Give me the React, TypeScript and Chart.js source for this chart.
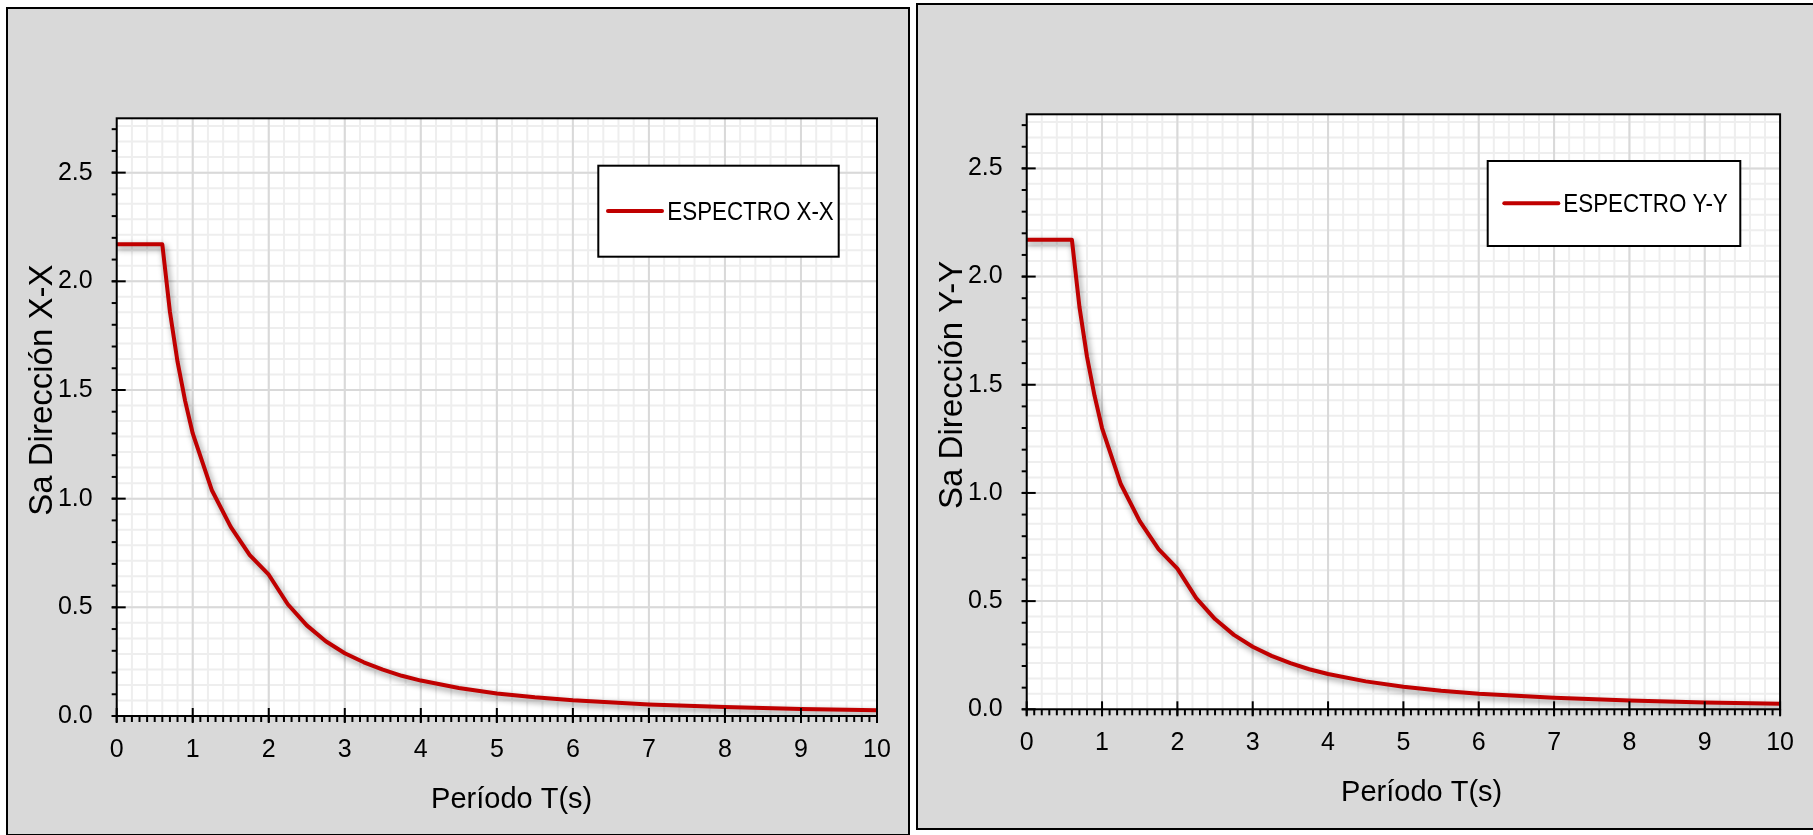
import React, { useEffect, useRef } from 'react';
import { Chart, registerables } from 'chart.js';

Chart.register(...registerables);

// ---- Data ----
const periods = [0, 0.6, 0.7, 0.8, 0.9, 1.0, 1.25, 1.5, 1.75, 2.0, 2.25, 2.5, 2.75, 3.0, 3.25, 3.5, 3.75, 4.0, 4.5, 5.0, 5.5, 6.0, 7.0, 8.0, 9.0, 10.0];
const saX = [2.17, 2.17, 1.86, 1.63, 1.45, 1.30, 1.04, 0.87, 0.74, 0.65, 0.514, 0.417, 0.344, 0.289, 0.247, 0.213, 0.185, 0.163, 0.129, 0.104, 0.086, 0.072, 0.053, 0.041, 0.032, 0.026];
const saY = [2.17, 2.17, 1.86, 1.63, 1.45, 1.30, 1.04, 0.87, 0.74, 0.65, 0.514, 0.417, 0.344, 0.289, 0.247, 0.213, 0.185, 0.163, 0.129, 0.104, 0.086, 0.072, 0.053, 0.041, 0.032, 0.026];
const xTickValues = [0, 1, 2, 3, 4, 5, 6, 7, 8, 9, 10];
const yTickValues = [0, 0.5, 1.0, 1.5, 2.0, 2.5];
const seriesNames = ['ESPECTRO X-X', 'ESPECTRO Y-Y'];
const yTitles = ['Sa Dirección X-X', 'Sa Dirección Y-Y'];
const xTitle = 'Período T(s)';

const X_MIN = 0, X_MAX = 10, Y_MIN = 0, Y_MAX = 2.75;

const FONT = "'Liberation Sans', Arial, Helvetica, sans-serif";
const LINE_COLOR = '#c00000';

type PanelCfg = {
  left: number;
  width: number;
  pad: { left: number; top: number; right: number; bottom: number };
  legend: { x: number; y: number; w: number; h: number; lx1: number; lx2: number; ly: number; tx: number; tb: number };
};

const panels: PanelCfg[] = [
  {
    left: 0,
    width: 912,
    pad: { left: 16.7, top: 118.3, right: 35, bottom: 59 },
    legend: { x: 598.3, y: 165.7, w: 240.4, h: 91, lx1: 608, lx2: 662, ly: 211, tx: 667.3, tb: 220 },
  },
  {
    left: 912,
    width: 901,
    pad: { left: 14.7, top: 114.3, right: 27.5, bottom: 65.7 },
    legend: { x: 575.7, y: 161, w: 252.6, h: 85, lx1: 592.3, lx2: 646.3, ly: 203.3, tx: 651.3, tb: 212 },
  },
];

function makeDecor(cfg: PanelCfg, seriesName: string, yTitle: string) {
  return {
    id: 'decor',
    beforeDatasetsDraw(chart: any) {
      const { ctx, chartArea: a, scales } = chart;
      const xs = scales.x, ys = scales.y;
      ctx.save();
      ctx.fillStyle = '#ffffff';
      ctx.fillRect(a.left, a.top, a.right - a.left, a.bottom - a.top);
      const seg = (x1: number, y1: number, x2: number, y2: number) => {
        ctx.beginPath();
        ctx.moveTo(x1, y1);
        ctx.lineTo(x2, y2);
        ctx.stroke();
      };
      // minor grid
      ctx.lineWidth = 2;
      ctx.strokeStyle = '#eeeeee';
      for (let i = 0; i <= 50; i++) {
        const px = xs.getPixelForValue(i * 0.2);
        seg(px, a.top, px, a.bottom);
      }
      for (let i = 0; i <= 40; i++) {
        const v = (i * 0.5) / 7;
        if (v > Y_MAX) break;
        const py = ys.getPixelForValue(v);
        seg(a.left, py, a.right, py);
      }
      // major grid
      ctx.strokeStyle = '#d9d9d9';
      xTickValues.forEach((v) => {
        const px = xs.getPixelForValue(v);
        seg(px, a.top, px, a.bottom);
      });
      yTickValues.forEach((v) => {
        const py = ys.getPixelForValue(v);
        seg(a.left, py, a.right, py);
      });
      ctx.restore();
      // shadow for the series line
      ctx.save();
      ctx.shadowColor = 'rgba(0,0,0,0.45)';
      ctx.shadowBlur = 6;
      ctx.shadowOffsetX = 2;
      ctx.shadowOffsetY = 3;
    },
    afterDatasetsDraw(chart: any) {
      const { ctx, chartArea: a, scales } = chart;
      ctx.restore();
      const xs = scales.x, ys = scales.y;
      ctx.save();
      const seg = (x1: number, y1: number, x2: number, y2: number) => {
        ctx.beginPath();
        ctx.moveTo(x1, y1);
        ctx.lineTo(x2, y2);
        ctx.stroke();
      };
      ctx.strokeStyle = '#000000';
      ctx.lineWidth = 2;
      // plot border / axes
      ctx.strokeRect(a.left, a.top, a.right - a.left, a.bottom - a.top);
      // y ticks
      for (let i = 0; i <= 27; i++) {
        const v = i / 10;
        const py = ys.getPixelForValue(v);
        seg(a.left - 5, py, a.left, py);
      }
      yTickValues.forEach((v) => {
        const py = ys.getPixelForValue(v);
        seg(a.left - 5, py, a.left + 9, py);
      });
      // x ticks
      for (let i = 0; i <= 100; i++) {
        const px = xs.getPixelForValue(i / 10);
        seg(px, a.bottom, px, a.bottom + 6);
      }
      xTickValues.forEach((v) => {
        const px = xs.getPixelForValue(v);
        seg(px, a.bottom - 8, px, a.bottom + 7);
      });
      // legend
      const L = cfg.legend;
      ctx.fillStyle = '#ffffff';
      ctx.fillRect(L.x, L.y, L.w, L.h);
      ctx.lineWidth = 2;
      ctx.strokeStyle = '#000000';
      ctx.strokeRect(L.x, L.y, L.w, L.h);
      ctx.strokeStyle = LINE_COLOR;
      ctx.lineWidth = 4;
      ctx.lineCap = 'round';
      seg(L.lx1, L.ly, L.lx2, L.ly);
      ctx.fillStyle = '#000000';
      ctx.font = `26px ${FONT}`;
      ctx.textAlign = 'left';
      ctx.textBaseline = 'alphabetic';
      ctx.save();
      ctx.translate(L.tx, L.tb);
      ctx.scale(0.86, 1);
      ctx.fillText(seriesName, 0, 0);
      ctx.restore();
      // axis titles
      ctx.font = `29px ${FONT}`;
      ctx.textAlign = 'center';
      ctx.textBaseline = 'middle';
      ctx.fillText(xTitle, a.left + 395, a.bottom + 84);
      ctx.save();
      ctx.translate(a.left - 74, (a.top + a.bottom) / 2 - 27);
      ctx.rotate(-Math.PI / 2);
      ctx.font = `33px ${FONT}`;
      ctx.fillText(yTitle, 0, 0);
      ctx.restore();
      ctx.restore();
    },
  };
}

function SpectrumChart({ idx, values }: { idx: number; values: number[] }) {
  const ref = useRef<HTMLCanvasElement | null>(null);
  const cfg = panels[idx];
  useEffect(() => {
    if (!ref.current) return;
    const chart = new Chart(ref.current, {
      type: 'line',
      data: {
        datasets: [
          {
            label: seriesNames[idx],
            data: periods.map((t, i) => ({ x: t, y: values[i] })),
            borderColor: LINE_COLOR,
            borderWidth: 4,
            pointRadius: 0,
            tension: 0,
            fill: false,
            borderJoinStyle: 'round',
            borderCapStyle: 'round',
          } as any,
        ],
      },
      options: {
        animation: false,
        responsive: false,
        maintainAspectRatio: false,
        events: [],
        layout: { padding: cfg.pad },
        plugins: { legend: { display: false }, tooltip: { enabled: false }, title: { display: false } },
        scales: {
          x: {
            type: 'linear',
            min: X_MIN,
            max: X_MAX,
            grid: { display: false, drawTicks: false },
            border: { display: false },
            afterFit: (s: any) => {
              s.height = 60;
            },
            afterBuildTicks: (s: any) => {
              s.ticks = xTickValues.map((v) => ({ value: v }));
            },
            ticks: {
              autoSkip: false,
              maxRotation: 0,
              padding: 19,
              color: '#000000',
              font: { family: FONT, size: 25 },
              callback: (v: any) => String(v),
            },
          },
          y: {
            type: 'linear',
            min: Y_MIN,
            max: Y_MAX,
            grid: { display: false, drawTicks: false },
            border: { display: false },
            afterFit: (s: any) => {
              s.width = 100;
            },
            afterBuildTicks: (s: any) => {
              s.ticks = yTickValues.map((v) => ({ value: v }));
            },
            ticks: {
              autoSkip: false,
              padding: 24,
              color: '#000000',
              font: { family: FONT, size: 25 },
              callback: (v: any) => Number(v).toFixed(1),
            },
          },
        },
      },
      plugins: [makeDecor(cfg, seriesNames[idx], yTitles[idx])],
    } as any);
    return () => chart.destroy();
  }, []);
  return (
    <canvas
      ref={ref}
      width={cfg.width}
      height={835}
      style={{ position: 'absolute', left: cfg.left, top: 0, width: cfg.width, height: 835 }}
    />
  );
}

export default function App() {
  return (
    <div
      style={{
        position: 'fixed',
        left: 0,
        top: 0,
        width: 1813,
        height: 835,
        overflow: 'hidden',
        background: '#ffffff',
      }}
    >
      <div
        style={{
          position: 'absolute',
          left: 6,
          top: 7,
          width: 904,
          height: 829,
          boxSizing: 'border-box',
          border: '2px solid #000',
          background: '#d9d9d9',
        }}
      />
      <div
        style={{
          position: 'absolute',
          left: 916,
          top: 3,
          width: 1000,
          height: 827,
          boxSizing: 'border-box',
          border: '2px solid #000',
          background: '#d9d9d9',
        }}
      />
      <SpectrumChart idx={0} values={saX} />
      <SpectrumChart idx={1} values={saY} />
    </div>
  );
}
